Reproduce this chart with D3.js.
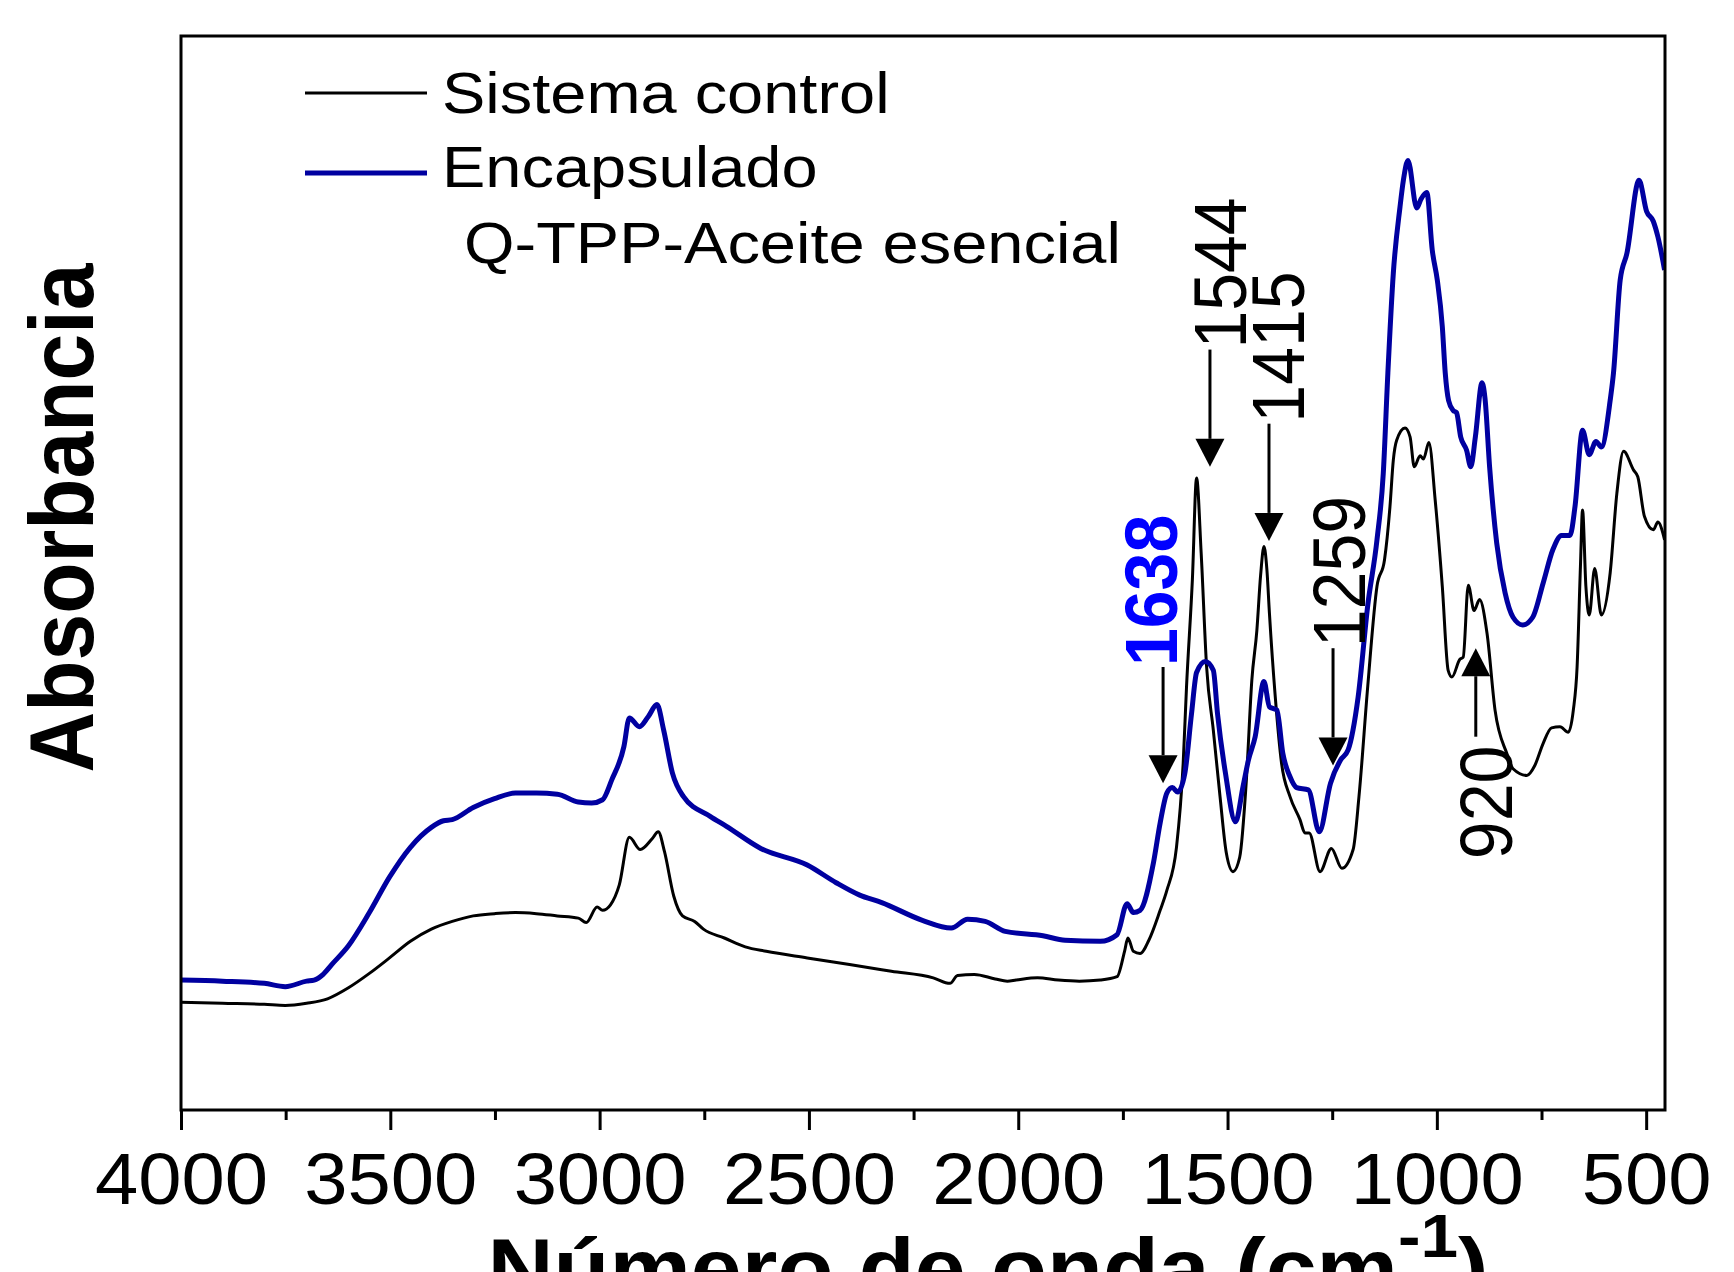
<!DOCTYPE html>
<html lang='es'>
<head>
  <meta charset='utf-8'>
  <title>FTIR</title>
  <script src='https://cdn.jsdelivr.net/npm/d3@7/dist/d3.min.js'></script>
  <style>
    body { margin: 0; background: #fff; }
    text { font-family: 'Liberation Sans', Arial, sans-serif; }
  </style>
</head>
<body>
  <script>
    // spectra: [wavenumber (cm-1), absorbance (a.u.)]
    let sistemaControl = [
      [4000,.094],[3901,.093],[3801,.092],[3751,.091],[3700,.093],[3650,.097],[3600,.107],[3550,.120],
      [3502,.134],[3452,.149],[3402,.160],[3352,.167],[3302,.172],[3251,.174],[3201,.175],[3151,.174],
      [3101,.172],[3051,.170],[3032,.166],[3006,.180],[2993,.177],[2974,.182],[2953,.200],[2929,.243],
      [2903,.232],[2874,.242],[2860,.248],[2845,.230],[2823,.190],[2802,.172],[2773,.167],[2752,.160],
      [2702,.152],[2652,.144],[2602,.140],[2504,.134],[2403,.128],[2303,.122],[2203,.116],[2163,.111],
      [2145,.118],[2105,.119],[2055,.115],[2026,.113],[2005,.114],[1954,.116],[1904,.114],[1854,.113],
      [1804,.114],[1764,.117],[1746,.140],[1738,.152],[1725,.140],[1709,.138],[1688,.150],[1661,.177],
      [1645,.195],[1622,.234],[1606,.310],[1598,.379],[1584,.476],[1574,.568],[1563,.500],[1550,.397],
      [1534,.340],[1518,.280],[1503,.229],[1487,.212],[1471,.225],[1455,.295],[1442,.385],[1430,.430],
      [1421,.480],[1413,.506],[1406,.485],[1400,.446],[1386,.370],[1371,.310],[1351,.280],[1327,.259],
      [1315,.247],[1305,.247],[1279,.212],[1252,.233],[1227,.215],[1200,.232],[1186,.280],[1165,.380],
      [1143,.470],[1125,.494],[1112,.542],[1104,.584],[1096,.602],[1076,.613],[1064,.605],[1054,.578],
      [1040,.588],[1032,.585],[1019,.600],[1004,.548],[987,.470],[973,.394],[964,.388],[945,.404],
      [937,.406],[925,.471],[911,.448],[898,.458],[880,.427],[861,.358],[833,.319],[818,.305],
      [785,.299],[766,.308],[746,.328],[726,.342],[706,.343],[686,.338],[674,.358],[665,.397],
      [657,.488],[652,.539],[644,.470],[636,.444],[623,.486],[607,.444],[586,.482],[570,.554],
      [554,.592],[530,.575],[520,.569],[504,.533],[483,.521],[472,.528],[456,.512]
    ];
    let encapsulado = [
      [4000,.114],[3901,.113],[3801,.111],[3751,.108],[3700,.113],[3682,.114],[3661,.119],[3640,.128],
      [3600,.145],[3550,.175],[3502,.207],[3452,.234],[3402,.252],[3373,.258],[3352,.259],[3302,.270],
      [3251,.278],[3201,.283],[3151,.283],[3101,.282],[3051,.275],[3019,.274],[2993,.277],[2971,.295],
      [2942,.325],[2929,.351],[2905,.343],[2884,.352],[2863,.363],[2847,.340],[2826,.301],[2800,.280],
      [2736,.262],[2697,.253],[2615,.233],[2504,.218],[2435,.202],[2380,.191],[2326,.184],[2229,.168],
      [2160,.161],[2121,.169],[2079,.167],[2031,.158],[1941,.154],[1888,.150],[1804,.149],[1764,.155],
      [1740,.183],[1725,.175],[1709,.177],[1677,.220],[1661,.256],[1645,.283],[1632,.288],[1619,.284],
      [1602,.301],[1586,.355],[1574,.392],[1553,.402],[1534,.394],[1524,.355],[1505,.301],[1481,.257],
      [1463,.289],[1450,.313],[1434,.334],[1413,.384],[1400,.361],[1382,.358],[1368,.319],[1351,.298],
      [1335,.288],[1307,.286],[1281,.248],[1254,.292],[1230,.313],[1212,.322],[1188,.370],[1165,.453],
      [1143,.512],[1128,.572],[1117,.663],[1104,.753],[1088,.813],[1080,.837],[1069,.855],[1048,.812],
      [1038,.820],[1024,.826],[1011,.774],[999,.747],[987,.705],[980,.663],[972,.638],[961,.629],
      [953,.627],[943,.605],[929,.593],[919,.578],[908,.605],[892,.654],[885,.640],[874,.578],
      [857,.509],[837,.464],[818,.442],[795,.435],[771,.442],[746,.473],[723,.503],[702,.516],
      [682,.516],[670,.542],[652,.611],[636,.589],[620,.601],[607,.596],[586,.638],[578,.663],
      [562,.747],[546,.771],[517,.837],[499,.809],[483,.800],[472,.786],[456,.756]
    ];
    let seriesNames = ["Sistema control", "Encapsulado", "Q-TPP-Aceite esencial"];
    let xTicks = [4000, 3500, 3000, 2500, 2000, 1500, 1000, 500];
    let xMinorTicks = [3750, 3250, 2750, 2250, 1750, 1250, 750];
    // peak marks: arrow at wavenumber `at`, from absorbance `from` to `to`, label set at `textAt`
    let peaks = [
      { label: "1638", at: 1654, textAt: 1621, from: 0.397, to: 0.292 },
      { label: "1544", at: 1542, textAt: 1456, from: 0.684, to: 0.578 },
      { label: "1415", at: 1401, textAt: 1317, from: 0.617, to: 0.511 },
      { label: "1259", at: 1248, textAt: 1172, from: 0.414, to: 0.308 },
      { label: "920",  at: 907,  textAt: 820,  from: 0.334, to: 0.414 }
    ];
    let highlightPeak = "1638";

    drawChart();

    function drawChart() {
      let width = 1734, height = 1272;
      let plot = { left: 181, right: 1665, top: 36, bottom: 1110 };
      let stretch = 1.09;

      let svg = d3.select("body").append("svg")
        .attr("width", width)
        .attr("height", height);

      let x = d3.scaleLinear().domain([4000, 455]).range([plot.left, plot.right]);
      let y = d3.scaleLinear().domain([-0.0035, 0.9675]).range([plot.bottom, plot.top]);

      svg.append("clipPath").attr("id", "clip")
        .append("rect")
        .attr("x", plot.left).attr("y", plot.top)
        .attr("width", plot.right - plot.left).attr("height", plot.bottom - plot.top);

      let line = d3.line()
        .x(d => x(d[0]))
        .y(d => y(d[1]))
        .curve(d3.curveMonotoneX);

      let curves = svg.append("g").attr("clip-path", "url(#clip)");
      curves.append("path").datum(sistemaControl)
        .attr("d", line).attr("fill", "none")
        .attr("stroke", "#000").attr("stroke-width", 3)
        .attr("stroke-linejoin", "round");
      curves.append("path").datum(encapsulado)
        .attr("d", line).attr("fill", "none")
        .attr("stroke", "#0000a0").attr("stroke-width", 5)
        .attr("stroke-linejoin", "round");

      // frame
      svg.append("rect")
        .attr("x", plot.left).attr("y", plot.top)
        .attr("width", plot.right - plot.left).attr("height", plot.bottom - plot.top)
        .attr("fill", "none").attr("stroke", "#000").attr("stroke-width", 3);

      // x axis, major + minor ticks
      let axis = svg.append("g")
        .attr("transform", `translate(0,${plot.bottom})`)
        .call(d3.axisBottom(x).tickValues(xTicks).tickSize(20).tickFormat(d3.format("d")));
      axis.select(".domain").remove();
      axis.selectAll(".tick line").attr("stroke-width", 3);
      axis.selectAll(".tick text")
        .attr("y", 94).attr("dy", null)
        .attr("transform", `scale(${stretch - 0.01},1)`)
        .style("font-size", "72px")
        .style("font-family", "'Liberation Sans', Arial, sans-serif")
        .attr("fill", "#000");

      let minor = svg.append("g")
        .attr("transform", `translate(0,${plot.bottom})`)
        .call(d3.axisBottom(x).tickValues(xMinorTicks).tickSize(10).tickFormat(""));
      minor.select(".domain").remove();
      minor.selectAll(".tick line").attr("stroke-width", 3);

      // axis titles
      let xTitle = svg.append("text")
        .attr("transform", `translate(988,1297) scale(${stretch},1)`)
        .attr("text-anchor", "middle")
        .style("font-size", "84px").style("font-weight", "bold");
      xTitle.append("tspan").text("Número de onda (cm");
      xTitle.append("tspan").text("-1").style("font-size", "62px").attr("dy", -40);
      xTitle.append("tspan").text(")").attr("dy", 40);

      svg.append("text")
        .attr("transform", `translate(93,518) scale(${stretch},1) rotate(-90)`)
        .attr("text-anchor", "middle")
        .style("font-size", "84px").style("font-weight", "bold")
        .text("Absorbancia");

      // legend
      let legend = svg.append("g");
      legend.append("line").attr("x1", 305).attr("x2", 427).attr("y1", 93).attr("y2", 93)
        .attr("stroke", "#000").attr("stroke-width", 3);
      legend.append("line").attr("x1", 305).attr("x2", 427).attr("y1", 173).attr("y2", 173)
        .attr("stroke", "#0000a0").attr("stroke-width", 5);
      let legendPos = [[442, 113], [442, 187], [464, 263]];
      legend.selectAll("text").data(seriesNames).join("text")
        .attr("transform", (d, i) => `translate(${legendPos[i][0]},${legendPos[i][1]}) scale(1.12,1)`)
        .style("font-size", "58px")
        .text(d => d);

      // peak arrows
      let marks = svg.append("g");
      peaks.forEach(p => {
        let px = x(p.at);
        let tail = y(p.from), tip = y(p.to);
        let down = tip > tail;
        let base = down ? tip - 28 : tip + 28;
        marks.append("line")
          .attr("x1", px).attr("x2", px).attr("y1", tail).attr("y2", base)
          .attr("stroke", "#000").attr("stroke-width", 3);
        marks.append("path")
          .attr("d", `M${px - 14.5},${base}L${px + 14.5},${base}L${px},${tip}Z`)
          .attr("fill", "#000");
        let hi = p.label === highlightPeak;
        marks.append("text")
          .attr("transform", `translate(${x(p.textAt)},${down ? tail - 1 : tail + 9}) scale(${stretch - 0.01},1) rotate(-90)`)
          .attr("text-anchor", down ? "start" : "end")
          .style("font-size", "68px")
          .style("font-weight", hi ? "bold" : "normal")
          .attr("fill", hi ? "#0000ff" : "#000")
          .text(p.label);
      });
    }
  </script>
</body>
</html>
